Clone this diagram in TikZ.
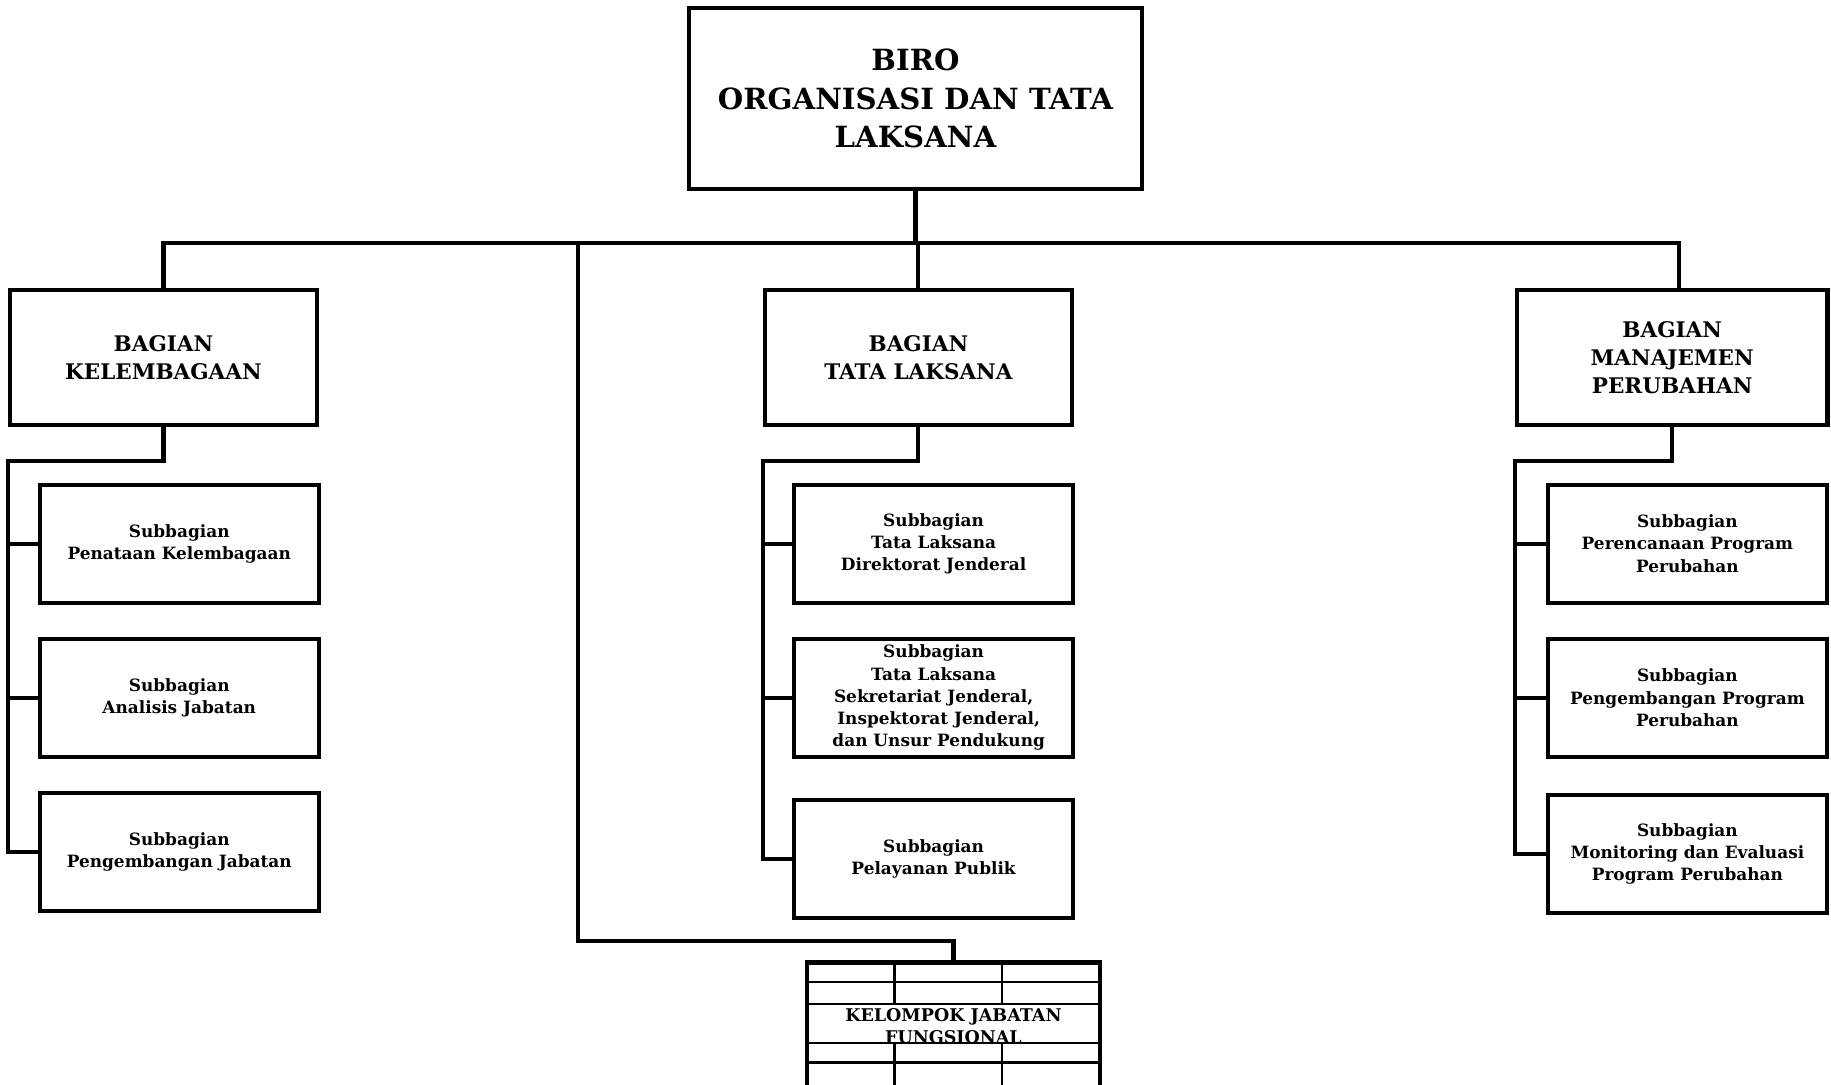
\documentclass[tikz,border=0pt]{standalone}
\usepackage{fontspec}
\setmainfont{DejaVu Serif}
\usetikzlibrary{positioning,calc}
\tikzset{
	every node/.style={font=\bfseries}
}
\tikzset{
	x=1pt,y=-1pt,
	biro node/.style={rectangle,draw,line width=3.5pt,align=center,minimum width=388pt,minimum height=155pt,font=\bfseries\fontsize{25}{33}\selectfont},
	bagian node/.style={rectangle,draw,line width=3.5pt,align=center,minimum width=263pt,minimum height=116pt,font=\bfseries\fontsize{18.4}{24}\selectfont},
	sub node/.style={rectangle,draw,line width=3.5pt,align=center,minimum width=239pt,minimum height=101pt,font=\bfseries\fontsize{14.5}{19}\selectfont},
	jf node/.style={rectangle,draw,line width=4pt,align=center,minimum width=251pt,minimum height=110pt,font=\bfseries\fontsize{15}{19}\selectfont},
	grid line/.style={line width=2pt}
}

\begin{document}
\begin{tikzpicture}[line width=3.5pt]
      \useasboundingbox (0,0) rectangle (1568,929);
      \clip (0,0) rectangle (1568,929);
      \node[biro node] (biro) at (784,84.5) {BIRO\\ORGANISASI DAN TATA\\LAKSANA};
      \node[bagian node] (kelembagaan) at (140,306) {BAGIAN\\KELEMBAGAAN};
      \node[bagian node] (tatalaksana) at (786.5,306) {BAGIAN\\TATA LAKSANA};
      \node[bagian node, minimum width=266pt] (manajemen) at (1432,306) {BAGIAN\\MANAJEMEN\\PERUBAHAN};
      \node[sub node] (penataan) [below=47.5pt of kelembagaan, xshift=13.5pt] {Subbagian\\Penataan Kelembagaan};
      \node[sub node] (analisis) [below=27.5pt of penataan] {Subbagian\\Analisis Jabatan};
      \node[sub node] (pengembanganjab) [below=27.5pt of analisis] {Subbagian\\Pengembangan Jabatan};
      \node[sub node] (tldirjen) [below=47.5pt of tatalaksana, xshift=13pt] {Subbagian\\Tata Laksana\\Direktorat Jenderal};
      \node[sub node] (tlsetjen) [below=27.5pt of tldirjen] {Subbagian\\Tata Laksana\\Sekretariat Jenderal,\\\hspace*{0.6em}Inspektorat Jenderal,\\\hspace*{0.6em}dan Unsur Pendukung};
      \node[sub node] (pelayanan) [below=33.5pt of tlsetjen] {Subbagian\\Pelayanan Publik};
      \node[sub node] (perencanaan) [below=47.5pt of manajemen, xshift=13pt] {Subbagian\\Perencanaan Program\\Perubahan};
      \node[sub node] (pengembanganprog) [below=27.5pt of perencanaan] {Subbagian\\Pengembangan Program\\Perubahan};
      \node[sub node] (monitoring) [below=29.5pt of pengembanganprog] {Subbagian\\Monitoring dan Evaluasi\\Program Perubahan};
      \node[jf node] (fungsional) at (816.5,879) {KELOMPOK JABATAN\\FUNGSIONAL};
      \coordinate (bus) at (784,208);
      \coordinate (jf turn) at (495,806);
      \draw (biro) -- (bus);
      \draw (kelembagaan) |- (bus) -| ([xshift=6pt]manajemen.north);
      \draw (tatalaksana) -- (tatalaksana |- bus);
      \draw (bus -| jf turn) -- (jf turn) -| (fungsional);
      \draw (kelembagaan.south) -- ++(0,29) -| (kelembagaan.west |- pengembanganjab) -- (pengembanganjab);
      \draw (kelembagaan.west |- penataan) -- (penataan);
      \draw (kelembagaan.west |- analisis) -- (analisis);
      \draw (tatalaksana.south) -- ++(0,29) -| (tatalaksana.west |- pelayanan) -- (pelayanan);
      \draw (tatalaksana.west |- tldirjen) -- (tldirjen);
      \draw (tatalaksana.west |- tlsetjen) -- (tlsetjen);
      \draw (manajemen.south) -- ++(0,29) -| (manajemen.west |- monitoring) -- (monitoring);
      \draw (manajemen.west |- perencanaan) -- (perencanaan);
      \draw (manajemen.west |- pengembanganprog) -- (pengembanganprog);
      \draw[grid line] ([yshift=-19pt]fungsional.north west) -- ([yshift=-19pt]fungsional.north east);
      \draw[grid line] ([yshift=-38pt]fungsional.north west) -- ([yshift=-38pt]fungsional.north east);
      \draw[grid line] ([yshift=-71pt]fungsional.north west) -- ([yshift=-71pt]fungsional.north east);
      \draw[grid line] ([yshift=-88pt]fungsional.north west) -- ([yshift=-88pt]fungsional.north east);
      \draw[grid line] ([xshift=77pt]fungsional.north west) -- ++(0,38);
      \draw[grid line] ([xshift=169pt]fungsional.north west) -- ++(0,38);
      \draw[grid line] ([xshift=77pt,yshift=-71pt]fungsional.north west) -- ++(0,40);
      \draw[grid line] ([xshift=169pt,yshift=-71pt]fungsional.north west) -- ++(0,40);
    \end{tikzpicture}
\end{document}
